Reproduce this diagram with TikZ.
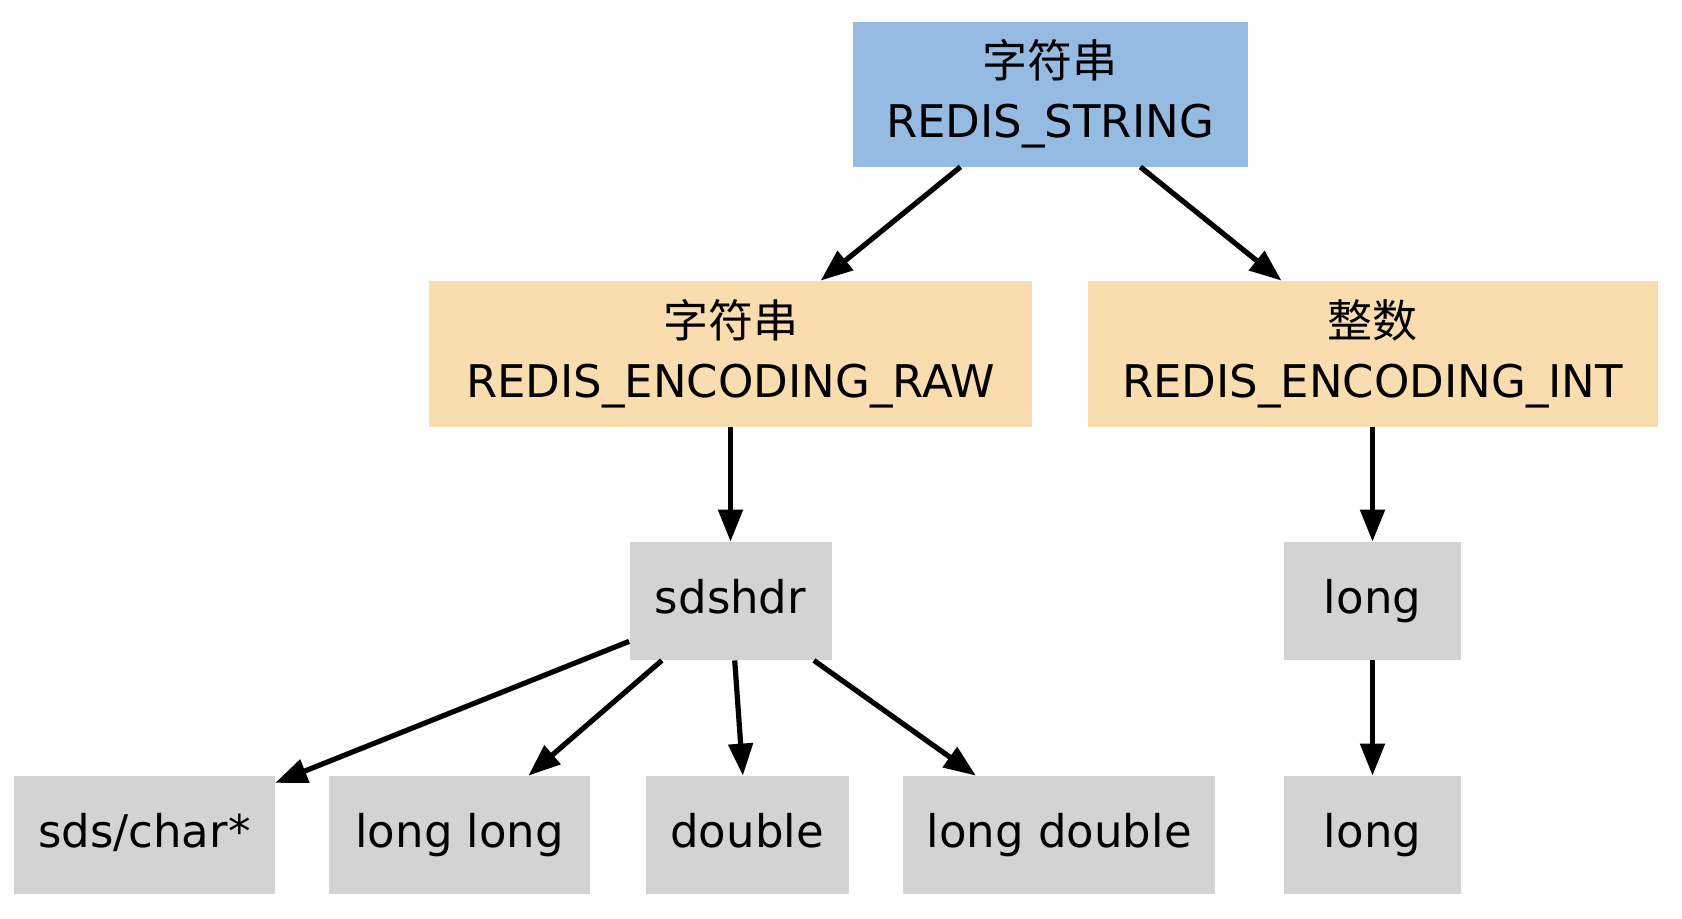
\documentclass[tikz,border=0pt]{standalone}
\usepackage{fontspec}
\setmainfont{DejaVu Sans}
\newfontfamily\cjk{Noto Sans CJK SC}
\usetikzlibrary{arrows.meta}
\definecolor{typeblue}{HTML}{96BBE2}
\definecolor{encorange}{HTML}{FADDAE}
\definecolor{structgray}{HTML}{D3D3D3}

\begin{document}
\begin{tikzpicture}[x=0.5pt,y=-0.5pt,>={Triangle[length=16pt,width=12pt]}]
	\tikzstyle{box}=[rectangle,inner sep=0pt,minimum height=59pt,align=center,font=\fontsize{22.5}{30}\selectfont]
	\tikzstyle{leaf}=[box,fill=structgray,text height=17pt,text depth=5pt]
	\useasboundingbox (0,0) rectangle (1682,918);
	\node[box,fill=typeblue,minimum width=197.5pt,minimum height=72.5pt](str) at (1050,94) {{\cjk 字符串}\\REDIS\_STRING};
	\node[box,fill=encorange,minimum width=301.5pt,minimum height=73pt](raw) at (730.5,354) {{\cjk 字符串}\\REDIS\_ENCODING\_RAW};
	\node[box,fill=encorange,minimum width=285pt,minimum height=73pt](int) at (1372.5,354) {{\cjk 整数}\\REDIS\_ENCODING\_INT};
	\node[leaf,minimum width=101pt](sdshdr) at (730.5,601) {sdshdr};
	\node[leaf,minimum width=88.5pt](long1) at (1372.5,601) {long};
	\node[leaf,minimum width=130.5pt](sds) at (144.3,835) {sds/char*};
	\node[leaf,minimum width=130.5pt](longlong) at (459.7,835) {long long};
	\node[leaf,minimum width=101.5pt](double) at (747.1,835) {double};
	\node[leaf,minimum width=156pt](longdouble) at (1059.3,835) {long double};
	\node[leaf,minimum width=88.5pt](long2) at (1372.5,835) {long};
	\draw[->,line width=2.6pt](str) -- (raw);
	\draw[->,line width=2.6pt](str) -- (int);
	\draw[->,line width=2.6pt](raw) -- (sdshdr);
	\draw[->,line width=2.6pt](int) -- (long1);
	\draw[->,line width=2.6pt](sdshdr) -- (sds);
	\draw[->,line width=2.6pt](sdshdr) -- (longlong);
	\draw[->,line width=2.6pt](sdshdr) -- (double);
	\draw[->,line width=2.6pt](sdshdr) -- (longdouble);
	\draw[->,line width=2.6pt](long1) -- (long2);
\end{tikzpicture}
\end{document}
